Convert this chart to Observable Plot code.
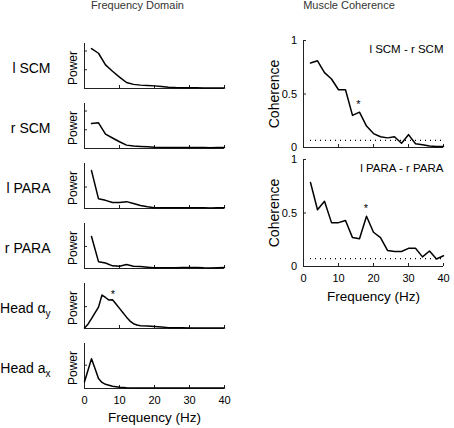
<!DOCTYPE html>
<html><head><meta charset="utf-8">
<script src="https://cdn.jsdelivr.net/npm/d3@7"></script>
<script src="https://cdn.jsdelivr.net/npm/@observablehq/plot@0.6"></script>
<style>
body{margin:0;background:#fff;}
#root{position:relative;width:454px;height:428px;overflow:hidden;font-family:"Liberation Sans",Arial,sans-serif;background:#fff;}
.title{position:absolute;top:0;font-size:11px;line-height:11px;color:#333;transform:translateX(-50%);white-space:nowrap;}
</style></head><body><div id="root"></div>
<script>
// ---------- data ----------
const freqs = [2,4,6,8,10,12,14,16,18,20,22,24,26,28,30,32,34,36,38,40];
const lSCM  = [2.13,1.88,1.26,0.92,0.61,0.32,0.22,0.18,0.16,0.14,0.11,0.07,0.05,0.04,0.04,0.04,0.03,0.03,0.03,0.03];
const rSCM  = [1.33,1.37,0.77,0.56,0.36,0.18,0.13,0.11,0.09,0.07,0.06,0.06,0.05,0.05,0.05,0.05,0.05,0.04,0.05,0.05];
const lPARA = [1.77,0.45,0.38,0.28,0.28,0.32,0.23,0.14,0.08,0.03,0.03,0.03,0.03,0.03,0.03,0.04,0.03,0.02,0.03,0.03];
const rPARA = [1.45,0.31,0.25,0.12,0.10,0.18,0.10,0.09,0.06,0.03,0.03,0.03,0.03,0.04,0.04,0.05,0.03,0.02,0.03,0.04];
const headAyFreq = [0,1,2,3,4,5,6,7,8,9,10,11,12,13,14,15,16,18,20,22,24,26,28,30,32,34,36,38,40];
const headAy = [0.02,0.2,0.45,0.72,0.98,1.53,1.42,1.30,1.32,1.12,0.92,0.72,0.52,0.34,0.22,0.16,0.13,0.11,0.09,0.07,0.04,0.03,0.03,0.02,0.02,0.02,0.02,0.02,0.02];
const headAxFreq = [0,1,2,3,4,5,6,8,10,12,14,16,18,20,22,24,26,28,30,32,34,36,38,40];
const headAx = [0.29,0.78,1.28,0.86,0.43,0.26,0.18,0.10,0.05,0.03,0.02,0.02,0.02,0.02,0.02,0.02,0.02,0.02,0.02,0.02,0.02,0.02,0.02,0.02];

const rowLabels = ["l SCM","r SCM","l PARA","r PARA","Head α","Head a"];
const rowSubs   = [null,null,null,null,"y","x"];
const powerMax  = [2.4,2.4,2.1,2.04,2.06,1.93];
const powerTicks = [[1,2],[1,2],[1],[1],[1],[1]];
const freqTicks = [0,10,20,30,40];
const headStarFreq = [8.1];
const headStarVal  = [1.71];

const cohSCM  = [0.79,0.81,0.70,0.64,0.54,0.54,0.30,0.33,0.20,0.13,0.10,0.09,0.10,0.04,0.12,0.035,0.025,0.015,0.01,0.01];
const cohPARA = [0.785,0.53,0.61,0.41,0.41,0.43,0.27,0.26,0.47,0.32,0.27,0.15,0.14,0.14,0.17,0.17,0.09,0.145,0.07,0.10];
const cohLabels = ["l SCM - r SCM","l PARA - r PARA"];
const cohTicks = [0,0.5,1];
const sigLevel = [0.066,0.073];
const sigFrom = [2,2];
const sigTo = [40,40];
const cohStarFreq = [15.7,17.8];
const cohStarVal  = [0.43,0.57];
const titles = ["Frequency Domain","Muscle Coherence"];

// ---------- build ----------
const root = document.getElementById("root");
const FONT = "'Liberation Sans', Arial, sans-serif";
const AX = "#222";
function rows(xs, ys){ return xs.map((f,i)=>({f, v: ys[i]})); }
function place(svg, left, top){
  svg.style.position = "absolute";
  svg.style.left = left + "px";
  svg.style.top = top + "px";
  root.appendChild(svg);
}

const powerSeries = [[freqs,lSCM],[freqs,rSCM],[freqs,lPARA],[freqs,rPARA],[headAyFreq,headAy],[headAxFreq,headAx]];

powerSeries.forEach(([xs, ys], i) => {
  const last = i === powerSeries.length - 1;
  const panelTop = 43 + 60*i, h = 45, mt = 4, mb = last ? 40 : 3;
  const marks = [
    Plot.ruleX([0], {stroke: AX}),
    Plot.ruleY([0], {stroke: AX}),
    Plot.axisX({ticks: freqTicks, tickSize: -3, tickPadding: 11, text: last ? undefined : null, tickFormat: d => String(d), label: null, stroke: AX}),
    Plot.axisY({ticks: powerTicks[i], tickSize: -3, text: null, label: null, stroke: AX}),
    Plot.line(rows(xs, ys), {x: "f", y: "v", stroke: "#000", strokeWidth: 1.5}),
    Plot.text(["Power"], {frameAnchor: "left", textAnchor: "middle", rotate: -90, dx: -11.5, dy: 2, fontSize: 12}),
    Plot.text([rowLabels[i]], {frameAnchor: "left", textAnchor: "end", dx: -34, dy: 3, fontSize: 14, className: "rowlab" + i})
  ];
  if (i === 4) marks.push(Plot.text(rows(headStarFreq, headStarVal), {x: "f", y: "v", text: () => "*", fontSize: 11, dy: 3}));
  if (last) marks.push(Plot.text(["Frequency (Hz)"], {frameAnchor: "bottom", lineAnchor: "top", dy: 24, fontSize: 13.5}));
  const svg = Plot.plot({
    width: 230, height: mt + h + mb,
    marginLeft: 84, marginRight: 6, marginTop: mt, marginBottom: mb,
    x: {domain: [0, 40]}, y: {domain: [0, powerMax[i]]},
    style: `font-family:${FONT};font-size:11px;background:transparent;overflow:visible;color:#000;`,
    marks
  });
  if (rowSubs[i]) {
    svg.querySelectorAll(".rowlab" + i + " text").forEach(t => {
      const ts = document.createElementNS("http://www.w3.org/2000/svg", "tspan");
      ts.setAttribute("dy", "0.35em");
      ts.setAttribute("font-size", "10px");
      ts.textContent = rowSubs[i];
      t.appendChild(ts);
    });
  }
  place(svg, 0, panelTop - mt);
});

const cohSeries = [cohSCM, cohPARA];
const cohTops = [40, 159];
cohSeries.forEach((ys, j) => {
  const last = j === cohSeries.length - 1;
  const mt = 10, h = 107, mb = last ? 40 : 4;
  const marks = [
    Plot.ruleX([0], {stroke: AX}),
    Plot.ruleY([0], {stroke: AX}),
    Plot.axisX({ticks: freqTicks, tickSize: -3, tickPadding: 11, text: last ? undefined : null, tickFormat: d => String(d), label: null, stroke: AX}),
    Plot.axisY({ticks: cohTicks, tickSize: -3, tickPadding: 9.5, tickFormat: d => String(d), label: null, stroke: AX}),
    Plot.ruleY([sigLevel[j]], {x1: sigFrom[j], x2: sigTo[j], stroke: "#000", strokeDasharray: "1,4", strokeWidth: 1.2}),
    Plot.line(rows(freqs, ys), {x: "f", y: "v", stroke: "#000", strokeWidth: 1.5}),
    Plot.text(rows([cohStarFreq[j]], [cohStarVal[j]]), {x: "f", y: "v", text: () => "*", fontSize: 11, dy: 3}),
    Plot.text(["Coherence"], {frameAnchor: "left", textAnchor: "middle", rotate: -90, dx: -29, fontSize: 14}),
    Plot.text([cohLabels[j]], {frameAnchor: "top-right", textAnchor: "end", lineAnchor: "middle", dy: 8.5, fontSize: 11.5})
  ];
  if (last) marks.push(Plot.text(["Frequency (Hz)"], {frameAnchor: "bottom", lineAnchor: "top", dy: 25, fontSize: 13.5}));
  const svg = Plot.plot({
    width: 227, height: mt + h + mb,
    marginLeft: 76, marginRight: 11, marginTop: mt, marginBottom: mb,
    x: {domain: [0, 40]}, y: {domain: [0, 1]},
    style: `font-family:${FONT};font-size:11px;background:transparent;overflow:visible;color:#000;`,
    marks
  });
  place(svg, 227, cohTops[j] - mt);
});

const titleX = [137.5, 349];
titles.forEach((t, k) => {
  const d = document.createElement("div");
  d.className = "title";
  d.style.left = titleX[k] + "px";
  d.textContent = t;
  root.appendChild(d);
});
</script>
</body></html>
